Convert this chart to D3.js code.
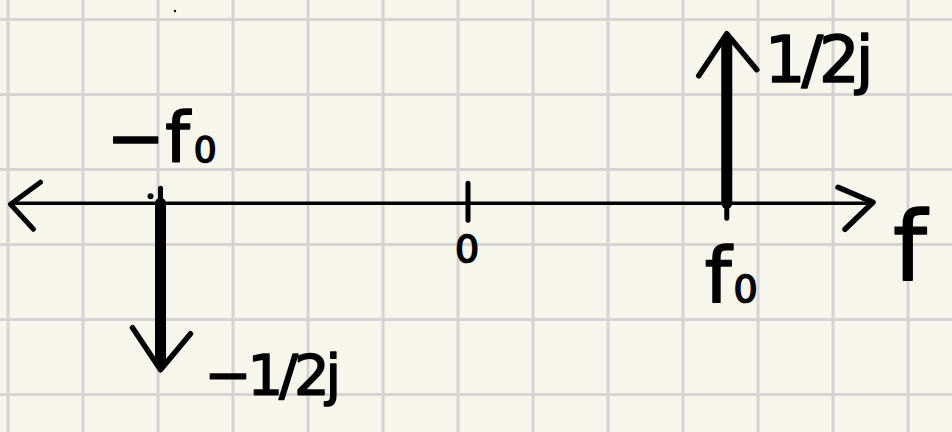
<!DOCTYPE html>
<html>
<head>
<meta charset="utf-8">
<script src="https://cdn.jsdelivr.net/npm/d3@7/dist/d3.min.js"></script>
<style>
  html, body { margin: 0; padding: 0; background: #f6f6ec; }
  svg { display: block; }
  text { font-family: "DejaVu Sans", sans-serif; fill: #000; stroke: #000; stroke-width: 1.6; stroke-linejoin: round; }
</style>
</head>
<body>
<svg id="chart" width="952" height="432"></svg>
<script>
// ---- data ----
const tickFreqs   = [-4.1, 0, 3.45];          // -f0, 0, f0 (grid units)
const tickLabels  = ["−f", "0", "f"];
const tickSubs    = ["0", "", "0"];
const impulseFreqs = [-4.1, 3.45];
const impulseAmps  = [-2.22, 2.26];
const impulseLabels = ["−1/2j", "1/2j"];
const axisLabel = "f";

const W = 952, H = 432;
const svg = d3.select("#chart");

const x = d3.scaleLinear().domain([-6.24, 6.453]).range([0, W]);
const y = d3.scaleLinear().domain([-3.05, 2.71]).range([H, 0]);

// background
svg.append("rect").attr("width", W).attr("height", H).attr("fill", "#f6f6ec");

// grid (graph paper)
const gx = d3.range(-6.133, 6.5, 1);
const gy = d3.range(-2.55, 2.71, 1);
const grid = svg.append("g").attr("stroke", "#d4d4d2").attr("stroke-width", 3);
grid.selectAll("line.v").data(gx).join("line").attr("class", "v")
  .attr("x1", d => x(d)).attr("x2", d => x(d)).attr("y1", 0).attr("y2", H);
grid.selectAll("line.h").data(gy).join("line").attr("class", "h")
  .attr("y1", d => y(d)).attr("y2", d => y(d)).attr("x1", 0).attr("x2", W);

const ink = svg.append("g").attr("stroke", "#000").attr("fill", "none")
  .attr("stroke-linecap", "round").attr("stroke-linejoin", "round");

// frequency axis with arrows at both ends
const y0 = y(0);
const xL = x(-6.1), xR = x(5.4);
ink.append("line").attr("x1", xL).attr("x2", xR).attr("y1", y0).attr("y2", y0).attr("stroke-width", 3.5);
ink.append("path").attr("stroke-width", 5)
  .attr("d", `M${xL + 30},${y0 - 21} L${xL},${y0 + 1} L${xL + 23},${y0 + 26}`);
ink.append("path").attr("stroke-width", 5.5)
  .attr("d", `M${xR - 35},${y0 - 16} L${xR},${y0 - 1} L${xR - 28},${y0 + 26}`);

// ticks
const tickExt = [[-15, 0], [-20, 17], [0, 15]];
ink.selectAll("line.tick").data(tickFreqs).join("line").attr("class", "tick")
  .attr("x1", d => x(d)).attr("x2", d => x(d))
  .attr("y1", (d, i) => y0 + tickExt[i][0]).attr("y2", (d, i) => y0 + tickExt[i][1])
  .attr("stroke-width", 5);

// stray pen dots
svg.append("circle").attr("cx", x(tickFreqs[0]) - 10).attr("cy", y0 - 7).attr("r", 3).attr("fill", "#000");
svg.append("circle").attr("cx", 175).attr("cy", 11).attr("r", 1.2).attr("fill", "#000");

// impulses
ink.selectAll("line.imp").data(impulseFreqs).join("line").attr("class", "imp")
  .attr("x1", d => x(d)).attr("x2", d => x(d))
  .attr("y1", y0).attr("y2", (d, i) => y(impulseAmps[i]) + (impulseAmps[i] > 0 ? 8 : -8))
  .attr("stroke-width", 11);
ink.selectAll("path.head").data(impulseFreqs).join("path").attr("class", "head")
  .attr("stroke-width", 5.5)
  .attr("d", (d, i) => {
    const cx = x(d), ty = y(impulseAmps[i]);
    const s = impulseAmps[i] > 0 ? 1 : -1;
    return `M${cx - 28},${ty + s * 42} L${cx},${ty} L${cx + 30},${ty + s * 36}`;
  });

// tick labels
const labelPos = [
  { dx: -54, y: 162, size: 70, sub: 36, subDx: 4 },
  { dx: -13, y: 262, size: 38 },
  { dx: -22, y: 302, size: 76, sub: 38, subDx: 2 }
];
const tl = svg.append("g");
tickFreqs.forEach((f, i) => {
  const p = labelPos[i];
  const t = tl.append("text").attr("x", x(f) + p.dx).attr("y", p.y)
    .attr("font-size", p.size).text(tickLabels[i]);
  if (tickSubs[i]) t.append("tspan").attr("font-size", p.sub).attr("dx", p.subDx).text(tickSubs[i]);
});

// axis label
svg.append("text").attr("x", 893).attr("y", 280).attr("font-size", 96).text(axisLabel);

// impulse amplitude labels
const ampPos = [{ dx: 44, y: 394, size: 56 }, { dx: 38, y: 82, size: 64 }];
impulseFreqs.forEach((f, i) => {
  svg.append("text").attr("x", x(f) + ampPos[i].dx).attr("y", ampPos[i].y)
    .attr("font-size", ampPos[i].size).attr("letter-spacing", -4).text(impulseLabels[i]);
});
</script>
</body>
</html>
